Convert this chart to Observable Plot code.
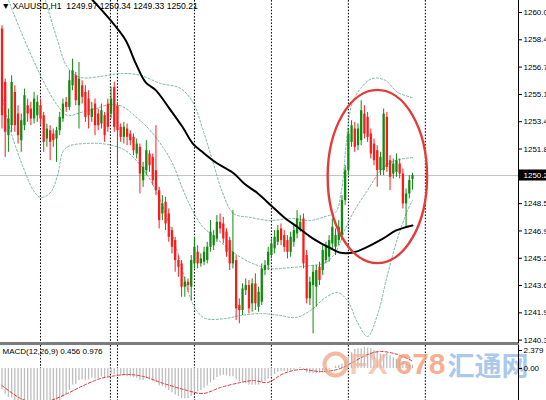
<!DOCTYPE html>
<html><head><meta charset="utf-8">
<script src="https://cdn.jsdelivr.net/npm/d3@7"></script>
<script src="https://cdn.jsdelivr.net/npm/@observablehq/plot@0.6"></script>
<style>
html,body{margin:0;padding:0;background:#fff;}
#wrap{width:546px;height:400px;overflow:hidden;position:relative;font-family:"Liberation Sans",Arial,sans-serif;}
#sep{width:519px;height:3px;background:#7d7d7d;}
svg{display:block}
</style></head><body><div id="wrap"><div id="p1"></div><div id="sep"></div><div id="p2"></div></div>
<script>
// ---------- data ----------
const symbol = "XAUUSD", period = "H1";
const open = [
1259.0,1255.8,1252.6,1253.2,1255.2,1253.9,1252.3,1253.2,1254.4,1254.2,
1253.6,1253.8,1254.4,1253.8,1252.4,1252.9,1252.7,1252.4,1252.9,1253.6,
1254.6,1254.3,1255.6,1256.2,1254.4,1255.6,1255.2,1254.8,1253.7,1254.5,
1253.9,1253.3,1253.8,1254.5,1253.9,1255.5,1254.4,1253.1,1252.5,1253.0,
1252.7,1252.5,1251.5,1251.9,1249.9,1250.5,1251.5,1251.3,1250.5,1249.3,
1247.9,1248.6,1247.9,1246.9,1246.3,1245.1,1244.9,1243.5,1243.8,1243.5,
1244.9,1245.6,1244.9,1245.0,1245.1,1245.9,1246.0,1246.4,1247.4,1247.3,
1246.8,1246.3,1244.9,1245.1,1242.4,1242.1,1243.3,1243.6,1242.5,1243.7,
1242.3,1242.6,1244.5,1244.8,1245.4,1245.8,1246.2,1247.0,1246.6,1246.3,
1245.6,1246.2,1246.7,1247.0,1247.6,1245.4,1242.8,1243.6,1243.5,1244.7,
1244.5,1245.1,1245.3,1246.1,1245.9,1246.3,1246.6,1248.7,1250.5,1252.2,
1253.0,1252.0,1252.3,1253.9,1253.7,1252.7,1252.1,1251.7,1250.5,1250.5,
1253.7,1251.1,1250.3,1250.4,1250.9,1250.3,1248.5,1249.1,1249.97];
const high = [
1259.2,1256.0,1254.2,1256.2,1255.6,1254.4,1253.9,1255.4,1254.8,1254.6,
1255.2,1255.0,1254.8,1254.0,1253.3,1253.2,1253.0,1253.1,1254.0,1254.8,
1254.9,1256.5,1257.2,1256.4,1257.0,1255.9,1255.6,1255.3,1254.6,1254.8,
1254.2,1254.5,1254.0,1254.8,1255.5,1255.8,1254.6,1253.3,1253.4,1253.3,
1252.9,1252.7,1252.4,1252.1,1251.0,1252.3,1251.7,1251.5,1253.2,1249.5,
1249.0,1248.9,1248.2,1247.1,1246.5,1245.4,1245.1,1244.1,1244.0,1245.4,
1246.5,1246.0,1245.5,1245.9,1246.2,1247.5,1246.9,1247.8,1247.9,1247.7,
1247.0,1246.5,1248.1,1245.4,1242.8,1243.7,1244.0,1243.9,1244.0,1244.3,
1243.5,1244.9,1245.1,1245.9,1246.4,1246.9,1247.2,1247.3,1246.9,1246.6,
1246.8,1247.2,1248.1,1247.8,1247.9,1245.7,1244.1,1244.8,1244.8,1245.0,
1246.0,1246.2,1246.6,1247.6,1247.0,1247.5,1249.0,1250.8,1253.0,1253.5,
1253.4,1253.3,1254.7,1254.4,1254.0,1253.0,1252.4,1252.0,1251.6,1254.2,
1254.0,1251.4,1251.2,1251.5,1251.2,1250.6,1249.4,1250.2,1250.34];
const low = [
1253.0,1251.3,1251.6,1252.8,1252.8,1252.1,1251.6,1252.9,1253.4,1253.2,
1253.3,1253.4,1253.2,1251.6,1251.9,1251.1,1251.9,1251.0,1252.6,1253.4,
1254.0,1254.1,1255.3,1254.4,1253.0,1254.5,1253.4,1253.0,1253.4,1252.6,
1252.9,1253.0,1252.2,1252.8,1253.6,1252.8,1250.9,1252.2,1252.1,1252.0,
1252.0,1251.4,1251.2,1249.1,1249.5,1250.2,1250.4,1249.6,1249.0,1247.0,
1247.5,1246.9,1246.2,1245.5,1244.4,1244.1,1242.9,1242.9,1243.2,1242.7,
1244.6,1244.6,1244.7,1244.8,1244.9,1245.6,1245.7,1246.2,1246.7,1246.1,
1245.3,1244.5,1244.6,1241.5,1241.3,1241.8,1243.0,1241.9,1242.0,1242.1,
1242.0,1242.4,1244.2,1244.5,1245.2,1245.5,1246.0,1246.0,1245.6,1245.2,
1245.3,1245.9,1246.4,1246.8,1244.6,1242.5,1242.4,1240.7,1242.3,1243.6,
1244.2,1244.9,1245.0,1245.8,1245.4,1246.0,1246.3,1248.4,1250.2,1251.9,
1251.6,1251.7,1252.0,1252.4,1252.2,1251.2,1250.8,1249.5,1250.2,1250.2,
1250.4,1249.3,1250.0,1250.1,1250.0,1248.2,1247.1,1248.8,1249.33];
const close = [
1253.8,1252.8,1253.6,1255.8,1253.2,1252.6,1253.5,1255.0,1253.9,1253.6,
1254.8,1254.6,1253.6,1252.2,1253.0,1252.2,1252.3,1252.9,1253.7,1254.5,
1254.3,1255.9,1256.5,1254.7,1256.0,1254.9,1253.7,1253.8,1254.2,1253.2,
1253.2,1254.1,1252.6,1253.1,1254.8,1253.1,1252.9,1252.5,1253.1,1252.5,
1252.3,1251.7,1252.1,1250.3,1250.7,1251.7,1250.8,1249.9,1249.3,1247.5,
1248.5,1247.3,1246.5,1245.9,1245.1,1244.7,1243.5,1243.8,1243.6,1245.1,
1245.9,1244.9,1245.2,1245.6,1245.9,1246.8,1246.6,1247.4,1247.0,1246.4,
1245.6,1244.9,1245.6,1242.2,1242.1,1243.4,1243.6,1242.2,1243.7,1242.5,
1243.2,1244.6,1244.8,1245.6,1246.1,1246.5,1246.9,1246.3,1245.9,1245.6,
1246.5,1246.9,1247.6,1247.4,1244.9,1242.8,1243.8,1244.4,1244.5,1243.9,
1245.7,1245.9,1246.3,1247.1,1246.6,1247.1,1248.7,1250.5,1252.7,1253.2,
1251.9,1253.0,1254.1,1252.7,1252.5,1251.5,1251.1,1250.5,1251.3,1253.9,
1250.7,1250.1,1250.9,1251.1,1250.3,1248.5,1249.1,1249.9,1250.21];

// moving average (black) read at bar positions
const maIdx = [27,33.9,38.6,41.7,44.8,48.0,52.0,56.4,59.5,62.7,66.7,72.3,75.5,79.8,83.9,88.0,92.3,96.4,99.5,102.0,105.2,109.5,113.6,118.9,122.9,128.0];
const maVal = [1261.0,1259.52,1258.32,1256.94,1255.80,1255.32,1254.29,1253.09,1252.13,1251.59,1250.99,1250.33,1249.73,1249.13,1248.41,1247.69,1247.09,1246.49,1246.13,1245.89,1245.59,1245.59,1245.89,1246.43,1246.91,1247.21];

// Bollinger bands
const ubIdx = [13.56,17.31,20.42,24.48,30.71,37.57,43.19,49.42,55.66,59.71,62.52,65.64,68.76,72.19,77.49,83.73,89.96,96.20,100.88,103.99,105.86,107.42,108.98,111.79,115.53,119.58,123.32,128.0];
const ubVal = [1260.72,1258.32,1256.70,1256.10,1256.16,1256.34,1256.22,1255.74,1255.44,1254.53,1253.03,1251.11,1249.19,1247.93,1247.69,1247.51,1247.63,1247.51,1247.75,1247.99,1249.31,1252.31,1254.41,1255.44,1256.04,1255.92,1255.20,1254.89];
const mbIdx = [2.03,5.77,9.82,13.56,17.31,20.42,24.48,29.16,33.84,37.57,41.63,45.68,50.05,53.17,56.29,59.40,62.52,66.57,71.25,77.49,83.73,89.96,96.20,100.88,103.99,107.11,110.23,113.35,118.65,122.70,128.0];
const mbVal = [1260.72,1258.92,1257.12,1255.62,1254.41,1253.81,1253.99,1254.23,1254.47,1254.35,1253.75,1253.03,1251.95,1250.93,1249.43,1248.11,1247.15,1246.49,1245.71,1244.98,1244.62,1244.68,1244.80,1244.98,1245.59,1247.03,1248.23,1249.13,1250.63,1251.11,1251.29];
const lbIdx = [0,2.65,6.39,9.82,12.0,15.12,17.31,19.18,21.36,26.04,30.71,34.46,38.51,43.19,46.31,49.42,52.54,55.66,58.16,60.65,63.45,69.69,74.37,80.60,86.84,91.52,96.20,100.88,104.62,107.74,110.86,113.98,117.10,120.21,123.33,126.45,128.0];
const lbVal = [1255.02,1252.91,1250.81,1249.31,1248.89,1249.19,1250.21,1251.71,1252.01,1252.13,1252.13,1252.01,1251.71,1250.81,1249.91,1248.71,1247.03,1244.98,1243.18,1242.10,1241.62,1241.62,1241.80,1241.92,1241.80,1241.68,1242.10,1242.88,1243.18,1242.70,1241.38,1240.54,1241.86,1244.26,1246.43,1248.11,1248.71];

// period separators (bar index)
const separators = [12, 33.8, 36, 60, 84, 108, 132];

// price axis
const tickVals = [1260.0,1258.36,1256.72,1255.08,1253.44,1251.80,1248.52,1246.88,1245.24,1243.60,1241.96,1240.32];
const tickLabels = ["1260.0","1258.4","1256.7","1255.1","1253.4","1251.8","1248.5","1246.9","1245.2","1243.6","1241.9","1240.3"];
const priceTag = "1250.2";

// highlighted zone (ellipse): centre bar / price and half extents
const ring = {cx: 117.2, cy: 1250.12, rx: 15.5, ry: 5.2};

// MACD
const macdName = "MACD(12,26,9)";
const macdMain = 0.456, macdSignalLast = 0.976;
const macd = [
-2.8,-3.4,-3.8,-3.9,-4.3,-4.6,
-4.8,-4.6,-4.7,-4.8,-4.6,-4.5,
-4.6,-4.9,-4.9,-5.0,-4.9,-4.7,
-4.3,-3.8,-3.5,-2.9,-2.2,-2.1,
-1.6,-1.5,-1.6,-1.5,-1.3,-1.4,
-1.4,-1.1,-1.2,-1.1,-0.8,-0.8,
-0.9,-1.0,-1.0,-1.1,-1.1,-1.2,
-1.3,-1.6,-1.6,-1.4,-1.5,-1.7,
-1.9,-2.3,-2.4,-2.6,-2.9,-3.2,
-3.5,-3.7,-4.0,-4.0,-4.0,-3.7,
-3.3,-3.1,-2.9,-2.6,-2.3,-1.9,
-1.6,-1.2,-1.0,-0.9,-1.0,-1.1,
-1.1,-1.5,-1.8,-1.9,-2.0,-2.2,
-2.2,-2.2,-2.2,-1.9,-1.7,-1.4,
-1.1,-0.8,-0.5,-0.4,-0.4,-0.4,
-0.3,-0.2,0.0,0.1,-0.2,-0.6,
-0.7,-0.7,-0.7,-0.6,-0.6,-0.4,
-0.2,0.0,0.3,0.4,0.6,1.0,
1.5,2.1,2.5,2.6,2.6,2.8,
2.7,2.6,2.4,2.2,1.9,1.8,
2.0,1.7,1.4,1.2,1.1,0.9,
0.5,0.4,0.456];
const sigIdx = [0,5.8,10.4,15.1,20.4,25.4,30.7,33.8,39.1,44.1,50.4,57.8,62.8,68.1,74.4,78.4,82.8,87.8,93.1,99.3,104.6,108.7,114,118,123.3,128];
const sigVal = [-2.25,-3.96,-4.5,-4.23,-3.3,-2.25,-1.32,-1.06,-0.79,-1.06,-1.98,-2.91,-3.3,-2.51,-1.85,-1.59,-1.85,-0.66,-0.13,-0.4,-0.13,0.66,1.85,2.25,1.85,0.976];
const macdTicks = [2.379, 0];
const macdTickLabels = ["2.379", "0.00"];

// ---------- build ----------
const FONT = "'Liberation Sans', Arial, sans-serif";
const GREEN = "#128a12", RED = "#ff1a1a", BAND = "#5faa96";
const n = close.length;
const candles = close.map((c, i) => ({i, o: open[i], h: high[i], l: low[i], c, up: c >= open[i]}));
const toRows = (xs, ys) => xs.map((x, k) => ({x, y: ys[k]}));
const last = candles[n - 1];
const header = `▼ ${symbol},${period}  ${open[n-1].toFixed(2)} ${high[n-1].toFixed(2)} ${low[n-1].toFixed(2)} ${close[n-1].toFixed(2)}`;
const xDomain = [-0.47, 161.05];
const xScale = {domain: xDomain, axis: null};
const tickMap = new Map(tickVals.map((v, k) => [v, tickLabels[k]]));
const macdTickMap = new Map(macdTicks.map((v, k) => [v, macdTickLabels[k]]));
const bandOpts = {x: "x", y: "y", stroke: BAND, strokeWidth: 1, strokeDasharray: "2,2", strokeOpacity: 0.85, curve: "catmull-rom", clip: true};
const barsPerPx = (xDomain[1] - xDomain[0]) / 518;
const pricePerPx = (1260.72 - 1240.18) / 342;

function ellipseMark(index, scales) {
  const sx = scales.x, sy = scales.y;
  const cx = sx(ring.cx), cy = sy(ring.cy);
  const rx = Math.abs(sx(ring.cx + ring.rx) - cx), ry = Math.abs(sy(ring.cy + ring.ry) - cy);
  return d3.create("svg:ellipse").attr("cx", cx).attr("cy", cy).attr("rx", rx).attr("ry", ry)
    .attr("fill", "none").attr("stroke", "#e53b36").attr("stroke-width", 2.4).node();
}

const p1 = Plot.plot({
  width: 546, height: 342, marginLeft: 0, marginRight: 28, marginTop: 0, marginBottom: 0,
  x: xScale,
  y: {domain: [1240.18, 1260.72], axis: null},
  style: {overflow: "visible", background: "transparent", fontFamily: FONT},
  marks: [
    Plot.text([header], {frameAnchor: "top-left", dx: 1, dy: 2, text: d => d, fontSize: 8.6, fill: "#000"}),
    Plot.ruleY([last.c], {stroke: "#c4c4c4", strokeWidth: 1}),
    Plot.ruleX(separators, {stroke: "#000", strokeWidth: 1, strokeDasharray: "1.6,1.6"}),
    Plot.line(toRows(ubIdx, ubVal), bandOpts),
    Plot.line(toRows(mbIdx, mbVal), bandOpts),
    Plot.line(toRows(lbIdx, lbVal), bandOpts),
    Plot.ruleX(candles.filter(d => d.up), {x: "i", y1: "l", y2: "h", stroke: GREEN, strokeWidth: 1}),
    Plot.ruleX(candles.filter(d => !d.up), {x: "i", y1: "l", y2: "h", stroke: RED, strokeWidth: 1}),
    Plot.ruleX(candles.filter(d => d.up), {x: "i", y1: "o", y2: "c", stroke: GREEN, strokeWidth: 2.3}),
    Plot.ruleX(candles.filter(d => !d.up), {x: "i", y1: "o", y2: "c", stroke: RED, strokeWidth: 2.3}),
    Plot.line(toRows(maIdx, maVal), {x: "x", y: "y", stroke: "#000", strokeWidth: 2, curve: "catmull-rom", clip: true}),
    ellipseMark,
    Plot.axisY({anchor: "right", ticks: tickVals, tickFormat: d => tickMap.get(d), tickSize: 3, tickPadding: 2, fontSize: 8, label: null}),
    Plot.frame({anchor: "right", stroke: "#000"}),
    // current price tag
    Plot.rect([last], {x1: xDomain[1] + barsPerPx, x2: xDomain[1] + 30 * barsPerPx,
      y1: d => d.c - 5.5 * pricePerPx, y2: d => d.c + 5.5 * pricePerPx, fill: "#000"}),
    Plot.text([last], {x: xDomain[1], y: "c", dx: 5, textAnchor: "start", text: () => priceTag,
      fill: "#fff", fontSize: 8})
  ]
});
document.getElementById("p1").append(p1);

const p2 = Plot.plot({
  width: 546, height: 55, marginLeft: 0, marginRight: 28, marginTop: 0, marginBottom: 0,
  x: xScale,
  y: {domain: [-4.23, 3.04], axis: null},
  style: {overflow: "visible", background: "transparent", fontFamily: FONT},
  marks: [
    Plot.ruleX(separators, {stroke: "#000", strokeWidth: 1, strokeDasharray: "1.6,1.6"}),
    Plot.ruleX(macd.map((v, i) => ({i, v})), {x: "i", y1: 0, y2: "v", stroke: "#bdbdbd", strokeWidth: 1.3, clip: true}),
    Plot.line(toRows(sigIdx, sigVal), {x: "x", y: "y", stroke: "#e23a3a", strokeWidth: 1, strokeDasharray: "3,2", curve: "catmull-rom", clip: true}),
    Plot.text([`${macdName} ${macdMain.toFixed(3)} ${macdSignalLast.toFixed(3)}`], {frameAnchor: "top-left", dx: 2, dy: 3, text: d => d, fontSize: 8, fill: "#000"}),
    Plot.dot([0], {frameAnchor: "top-left", dx: 335, dy: 19, r: 11, stroke: "#f2a27f", strokeWidth: 4, fill: "none", strokeOpacity: 0.75}),
    Plot.text(["FX"], {frameAnchor: "top-left", dx: 349, dy: 7, lineAnchor: "top", textAnchor: "start", text: d => d, fontSize: 30, fontWeight: "bold", fill: "#f5b49a", fillOpacity: 0.7}),
    Plot.text(["678"], {frameAnchor: "top-left", dx: 395, dy: 7, lineAnchor: "top", textAnchor: "start", text: d => d, fontSize: 30, fontWeight: "bold", fill: "#f39a76", fillOpacity: 0.8}),
    Plot.text(["汇通网"], {frameAnchor: "top-left", dx: 447, dy: 11, lineAnchor: "top", textAnchor: "start", text: d => d, fontSize: 27, fontWeight: "bold", fontFamily: "'Noto Sans CJK SC', sans-serif", fill: "#94b9e8", fillOpacity: 0.8}),
    Plot.axisY({anchor: "right", ticks: macdTicks, tickFormat: d => macdTickMap.get(d), tickSize: 3, tickPadding: 2, fontSize: 8, label: null}),
    Plot.frame({anchor: "right", stroke: "#000"})
  ]
});
document.getElementById("p2").append(p2);
</script></body></html>
